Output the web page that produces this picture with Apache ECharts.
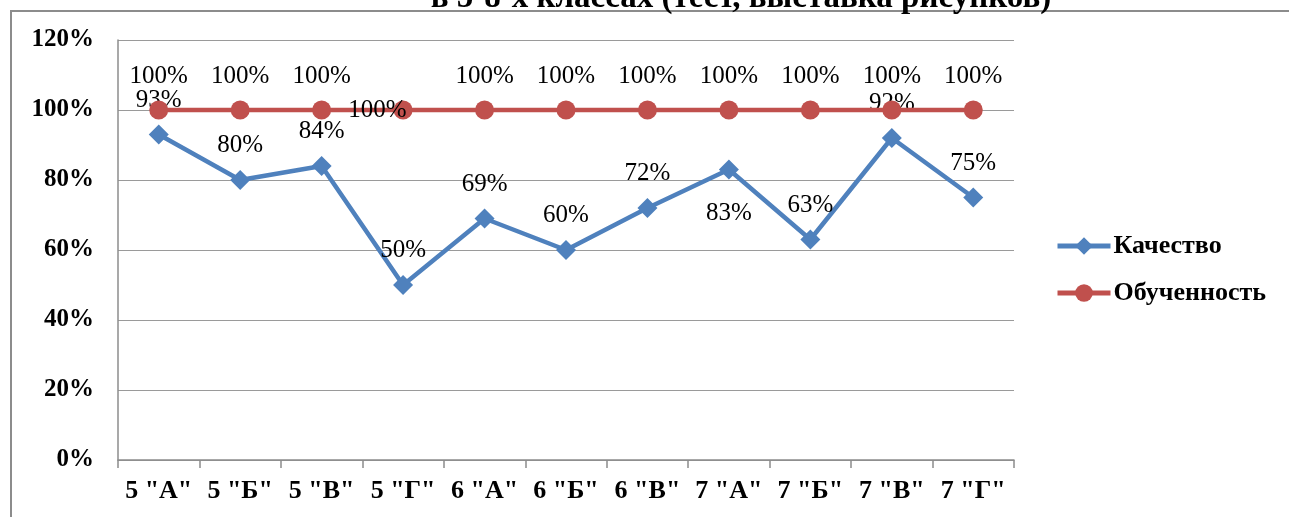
<!DOCTYPE html>
<html>
<head>
<meta charset="utf-8">
<script src="https://cdn.jsdelivr.net/npm/echarts@6/dist/echarts.min.js"></script>
<style>
  html, body { margin: 0; padding: 0; background: #fff; }
  #chart { width: 1289px; height: 517px; }
</style>
</head>
<body>
<div id="chart"></div>
<script>
// Classes (x axis)
const classes = ['5 "А"', '5 "Б"', '5 "В"', '5 "Г"', '6 "А"', '6 "Б"', '6 "В"', '7 "А"', '7 "Б"', '7 "В"', '7 "Г"'];
// Quality, percent
const quality = [93, 80, 84, 50, 69, 60, 72, 83, 63, 92, 75];
// Learning level, percent
const learning = [100, 100, 100, 100, 100, 100, 100, 100, 100, 100, 100];
// Y ticks
const yTicks = [0, 20, 40, 60, 80, 100, 120];

const titleText = 'в 5-8-х классах (тест, выставка рисунков)';
const serif = '"Liberation Serif", "DejaVu Serif", "Times New Roman", serif';

const chart = echarts.init(document.getElementById('chart'), null, { renderer: 'canvas' });

const qualityData = quality.map((v, i) => {
  const item = { value: v };
  if (i === 7) item.label = { position: 'bottom', distance: 21 };
  return item;
});
const learningData = learning.map((v, i) => {
  const item = { value: v };
  if (i === 3) item.label = { position: 'left', distance: -13 };
  return item;
});

chart.setOption({
  animation: false,
  textStyle: { fontFamily: serif },
  graphic: [
    {
      type: 'polyline',
      shape: { points: [[11, 517], [11, 11], [1289, 11]] },
      style: { stroke: '#8c8c8c', lineWidth: 2, fill: null },
      silent: true
    },
    {
      type: 'text',
      x: 741, y: -2,
      style: {
        text: titleText,
        font: 'bold 33px ' + serif,
        fill: '#000',
        align: 'center',
        verticalAlign: 'middle'
      },
      silent: true
    }
  ],
  grid: { left: 118, right: 275, top: 40, bottom: 57, containLabel: false },
  legend: {
    orient: 'vertical',
    left: 1050,
    top: 228,
    itemGap: 21,
    itemWidth: 53,
    itemHeight: 22,
    lineStyle: { width: 5 },
    textStyle: { fontFamily: serif, fontSize: 26, fontWeight: 'bold', color: '#000', padding: [0, 0, 0, -2] },
    data: ['Качество', 'Обученность']
  },
  xAxis: {
    type: 'category',
    data: classes,
    boundaryGap: true,
    axisLine: { lineStyle: { color: '#8c8c8c', width: 1.5 } },
    axisTick: { show: true, length: 8, lineStyle: { color: '#8c8c8c', width: 1.5 } },
    axisLabel: { fontFamily: serif, fontSize: 26, fontWeight: 'bold', color: '#000', margin: 18, interval: 0 }
  },
  yAxis: {
    type: 'value',
    min: yTicks[0],
    max: yTicks[yTicks.length - 1],
    interval: 20,
    axisLine: { show: true, lineStyle: { color: '#8c8c8c', width: 1.5 } },
    axisTick: { show: false },
    splitLine: { lineStyle: { color: '#9a9a9a', width: 1 } },
    axisLabel: {
      fontFamily: serif, fontSize: 25, fontWeight: 'bold', color: '#000', margin: 24,
      formatter: v => v + '%'
    }
  },
  series: [
    {
      name: 'Качество',
      type: 'line',
      data: qualityData,
      symbol: 'diamond',
      symbolSize: 20,
      z: 2,
      lineStyle: { color: '#4F81BD', width: 4.5 },
      itemStyle: { color: '#4F81BD' },
      label: {
        show: true, position: 'top', distance: 12,
        fontFamily: serif, fontSize: 25, color: '#000',
        formatter: p => p.value + '%'
      }
    },
    {
      name: 'Обученность',
      type: 'line',
      data: learningData,
      symbol: 'circle',
      symbolSize: 19,
      z: 3,
      lineStyle: { color: '#C0504D', width: 4.5 },
      itemStyle: { color: '#C0504D' },
      label: {
        show: true, position: 'top', distance: 12,
        fontFamily: serif, fontSize: 25, color: '#000',
        formatter: p => p.value + '%'
      }
    }
  ]
});
</script>
</body>
</html>
